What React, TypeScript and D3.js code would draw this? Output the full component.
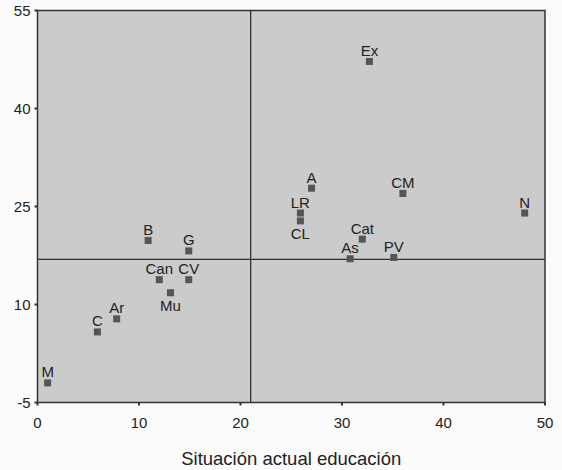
import React from "react";
import * as d3 from "d3";

const labels = ["Ex", "A", "CM", "N", "LR", "CL", "Cat", "As", "PV", "B", "G", "Can", "CV", "Mu", "Ar", "C", "M"];
const xValues = [32.7, 27.0, 36.0, 48.0, 25.9, 25.9, 32.0, 30.8, 35.1, 10.9, 14.9, 12.0, 14.9, 13.1, 7.8, 5.9, 1.0];
const yValues = [47.2, 27.8, 27.0, 24.0, 24.0, 22.8, 20.0, 17.0, 17.2, 19.8, 18.2, 13.8, 13.8, 11.8, 7.8, 5.8, -2.0];
const belowLabels = ["CL", "Mu"];
const xTicks = [0, 10, 20, 30, 40, 50];
const yTicks = [-5, 10, 25, 40, 55];
const xRef = 21.0;
const yRef = 16.9;
const xTitle = "Situación actual educación";

export default function App() {
  const W = 562, H = 470;
  const x = d3.scaleLinear().domain([0, 50]).range([37.5, 545]);
  const y = d3.scaleLinear().domain([-5, 55]).range([402.5, 10.5]);
  const font = "Arial, 'Liberation Sans', sans-serif";
  const dark = "#333";
  return (
    <svg width={W} height={H} style={{ position: "absolute", left: 0, top: 0, background: "#fbfbfb" }} fontFamily={font}>
      <rect x={x(0)} y={y(55)} width={x(50) - x(0)} height={y(-5) - y(55)} fill="#cbcbcb" stroke={dark} strokeWidth={1.5} />
      <line x1={x(xRef)} x2={x(xRef)} y1={y(55)} y2={y(-5)} stroke={dark} strokeWidth={1.3} />
      <line x1={x(0)} x2={x(50)} y1={y(yRef)} y2={y(yRef)} stroke={dark} strokeWidth={1.3} />
      {xTicks.map((t) => (
        <g key={"xt" + t}>
          <line x1={x(t)} x2={x(t)} y1={y(-5)} y2={y(-5) + 3} stroke={dark} strokeWidth={2} />
          <text x={x(t)} y={428} textAnchor="middle" fontSize={15} fill="#222">{t}</text>
        </g>
      ))}
      {yTicks.map((t) => (
        <g key={"yt" + t}>
          <line x1={x(0) - 3} x2={x(0)} y1={y(t)} y2={y(t)} stroke={dark} strokeWidth={2} />
          <text x={x(0) - 7} y={y(t) + 5.5} textAnchor="end" fontSize={15} fill="#222">{t}</text>
        </g>
      ))}
      {labels.map((l, i) => {
        const cx = x(xValues[i]);
        const cy = y(yValues[i]);
        const below = belowLabels.includes(l);
        return (
          <g key={l}>
            <rect x={cx - 3.5} y={cy - 3.5} width={7} height={7} fill="#555" />
            <text x={cx} y={below ? cy + 18.5 : cy - 5.5} textAnchor="middle" fontSize={15} fill="#222">{l}</text>
          </g>
        );
      })}
      <text x={(x(0) + x(50)) / 2} y={465} textAnchor="middle" fontSize={18.5} fill="#222">{xTitle}</text>
    </svg>
  );
}
